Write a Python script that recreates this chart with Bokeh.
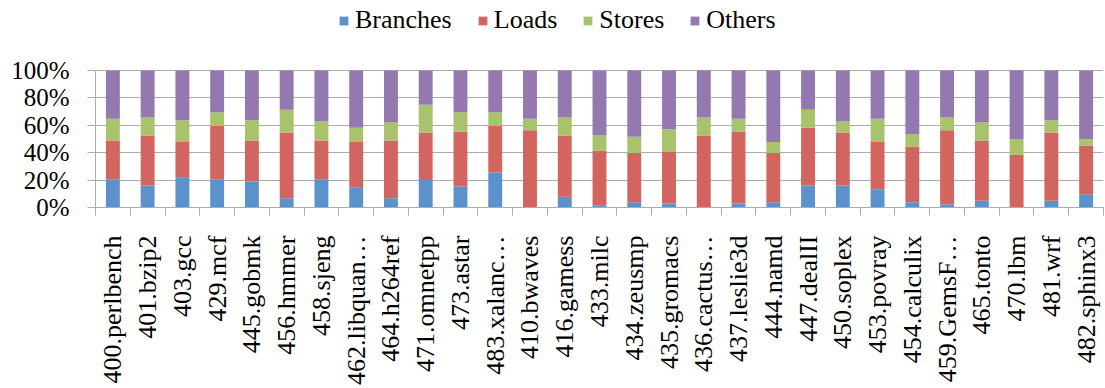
import math

from bokeh.plotting import figure
from bokeh.models import (ColumnDataSource, Range1d, FixedTicker, NumeralTickFormatter,
                          Legend, LegendItem)
from bokeh.embed import file_html
from bokeh.resources import INLINE

# SPEC CPU2006 benchmarks and their instruction mix (percent of dynamic instructions)
benchmarks = [
    "400.perlbench", "401.bzip2", "403.gcc", "429.mcf", "445.gobmk", "456.hmmer",
    "458.sjeng", "462.libquan\u2026", "464.h264ref", "471.omnetpp", "473.astar",
    "483.xalanc\u2026", "410.bwaves", "416.gamess", "433.milc", "434.zeusmp",
    "435.gromacs", "436.cactus\u2026", "437.leslie3d", "444.namd", "447.dealII",
    "450.soplex", "453.povray", "454.calculix", "459.GemsF\u2026", "465.tonto",
    "470.lbm", "481.wrf", "482.sphinx3",
]
branches = [20.7, 16.0, 21.7, 20.7, 19.0, 6.8, 20.7, 14.4, 6.8, 20.0, 15.3, 25.5, 0.0, 7.8,
            1.2, 3.9, 2.9, 0.0, 2.9, 3.9, 16.0, 16.0, 13.4, 3.9, 2.2, 4.9, 0.0, 4.9, 9.7]
loads = [28.2, 36.6, 26.2, 38.7, 29.9, 47.9, 28.2, 33.5, 42.1, 34.7, 40.2, 33.9, 56.4, 44.8,
         40.4, 35.8, 37.7, 52.6, 52.6, 35.8, 42.4, 38.7, 34.5, 40.4, 54.2, 44.0, 38.7, 49.8, 35.6]
stores = [15.8, 13.1, 15.8, 10.2, 14.8, 16.6, 13.9, 10.3, 13.1, 20.3, 14.1, 10.2, 8.3, 13.1,
          11.0, 11.9, 16.6, 13.1, 9.2, 8.2, 12.9, 8.1, 16.8, 9.2, 9.3, 13.1, 11.2, 9.0, 4.6]
others = [35.3, 34.3, 36.3, 30.4, 36.3, 28.7, 37.2, 41.8, 38.0, 25.0, 30.4, 30.4, 35.3, 34.3,
          47.4, 48.4, 42.8, 34.3, 35.3, 52.1, 28.7, 37.2, 35.3, 46.5, 34.3, 38.0, 50.1, 36.3, 50.1]

series = ["Branches", "Loads", "Stores", "Others"]
colors = ["#5B92CC", "#D2655F", "#A8C36C", "#9478B0"]

n = len(benchmarks)
centers = [i + 0.5 for i in range(n)]
totals = [b + l + s + o for b, l, s, o in zip(branches, loads, stores, others)]
source = ColumnDataSource(data=dict(
    x=centers,
    Branches=[v / t for v, t in zip(branches, totals)],
    Loads=[v / t for v, t in zip(loads, totals)],
    Stores=[v / t for v, t in zip(stores, totals)],
    Others=[v / t for v, t in zip(others, totals)],
))

FONT = "Liberation Serif"
GRID = "#ACACAC"

# frame spans from the top of the canvas so the legend can sit inside it;
# the 0-100% band occupies the lower 137 px of a 207 px frame
FRAME_H, BAND_H = 207, 137
p = figure(width=1105, height=388, output_backend="svg", toolbar_location=None,
           x_range=Range1d(0, n), y_range=Range1d(0, FRAME_H / BAND_H),
           min_border_left=95, min_border_right=2, min_border_top=0, min_border_bottom=181)
p.outline_line_color = None
p.background_fill_color = "white"
p.border_fill_color = "white"

renderers = p.vbar_stack(series, x="x", width=0.4, source=source,
                         color=colors, line_color=None)

# y axis: percentages with outward ticks, axis line limited to 0-100%
p.yaxis.ticker = FixedTicker(ticks=[0, 0.2, 0.4, 0.6, 0.8, 1.0])
p.yaxis.bounds = (0, 1)
p.yaxis.formatter = NumeralTickFormatter(format="0%")
p.yaxis.major_label_text_font = FONT
p.yaxis.major_label_text_font_size = "25px"
p.yaxis.major_label_text_color = "black"
p.yaxis.major_tick_out = 8
p.yaxis.major_tick_in = 0
p.yaxis.minor_tick_line_color = None
p.yaxis.major_tick_line_color = GRID
p.yaxis.axis_line_color = GRID
p.yaxis.major_label_standoff = 18

# x axis: labels at bar centres, tick marks at category boundaries
p.xaxis.ticker = FixedTicker(ticks=centers, minor_ticks=list(range(n + 1)))
p.xaxis.major_label_overrides = {c: name for c, name in zip(centers, benchmarks)}
p.xaxis.major_label_orientation = math.pi / 2
p.xaxis.major_label_text_font = FONT
p.xaxis.major_label_text_font_size = "26px"
p.xaxis.major_label_text_color = "black"
p.xaxis.major_tick_line_color = None
p.xaxis.major_tick_out = 0
p.xaxis.major_tick_in = 0
p.xaxis.minor_tick_out = 8
p.xaxis.minor_tick_in = 0
p.xaxis.minor_tick_line_color = GRID
p.xaxis.axis_line_color = GRID
p.xaxis.major_label_standoff = 20

p.xgrid.grid_line_color = None
p.ygrid.grid_line_color = GRID
p.ygrid.level = "underlay"

legend = Legend(
    items=[LegendItem(label=s, renderers=[r]) for s, r in zip(series, renderers)],
    orientation="horizontal", location=(243, 172),
    label_text_font=FONT, label_text_font_size="26px", label_text_color="black",
    glyph_width=11, glyph_height=11, label_standoff=6, spacing=25,
    padding=0, margin=0, border_line_color=None, background_fill_alpha=0,
)
p.add_layout(legend, "center")

open("out.html", "w").write(file_html(p, INLINE))
